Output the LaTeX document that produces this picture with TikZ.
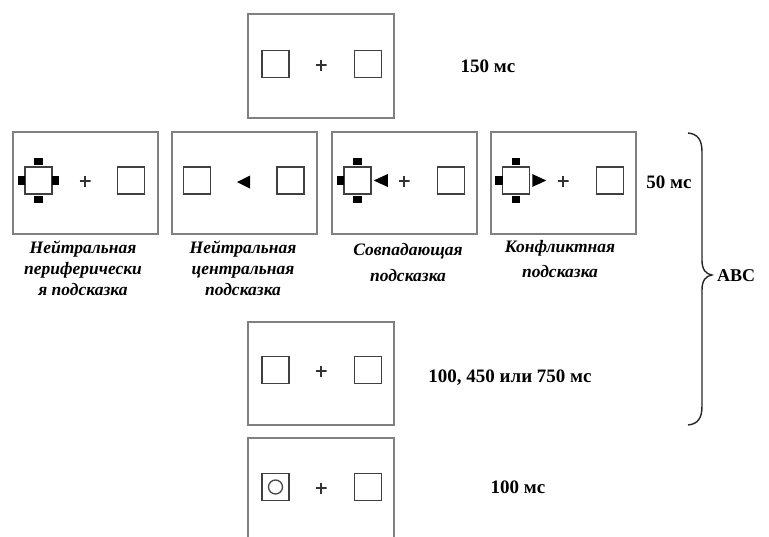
\documentclass[tikz,border=0pt]{standalone}
\usepackage{fontspec}
\setmainfont{Liberation Serif}
\begin{document}
\begin{tikzpicture}[x=1pt,y=-1pt,
  frame/.style={draw=black!50, line width=2pt, minimum width=145pt, minimum height=102pt, inner sep=0pt},
  sq/.style={draw=black!75, line width=1.5pt, minimum size=27pt, inner sep=0pt},
  mk/.style={fill=black, minimum width=8.5pt, minimum height=7.5pt, inner sep=0pt},
  mkv/.style={fill=black, minimum width=7.5pt, minimum height=8.5pt, inner sep=0pt},
  plus/.style={minimum size=11pt, inner sep=0pt, path picture={
      \draw[line width=1.7pt, black!80]
        (path picture bounding box.north) -- (path picture bounding box.south)
        (path picture bounding box.west) -- (path picture bounding box.east);}},
  tlabel/.style={inner sep=0pt, font=\fontsize{19}{20}\selectfont\bfseries},
  cuelabel/.style={inner sep=0pt, align=center, anchor=north, font=\fontsize{17.5}{21}\selectfont\bfseries\itshape},
  tri/.style={fill=black}]
\useasboundingbox (0,0) rectangle (769,536);
\clip (0,0) rectangle (769,536);

% fixation display
\node[frame, minimum width=146pt, minimum height=104pt] (f0) at (321,66) {};
\node[sq] (f0l) at (275.5,64) {};
\node[plus] (f0p) at (321,65) {};
\node[sq] (f0r) at (368,64) {};
\node[tlabel] (t0) at (488,66) {150 мс};

% four cue displays
\node[frame] (f1) at (85.5,182.5) {};
\node[frame] (f2) at (244.5,182.5) {};
\node[frame] (f3) at (404.5,182.5) {};
\node[frame] (f4) at (563,182.5) {};

% neutral peripheral cue
\node[sq] (c1) at (38.5,180.5) {};
\node[mk, anchor=south, yshift=1pt] at (c1.north) {};
\node[mk, anchor=north, yshift=-1pt] at (c1.south) {};
\node[mkv, anchor=east, xshift=1pt] at (c1.west) {};
\node[mkv, anchor=west, xshift=-1pt] at (c1.east) {};
\node[plus] (p1) at (85,181) {};
\node[sq] (r1) at (131,180.5) {};

% neutral central cue
\node[sq] (l2) at (197,180.5) {};
\fill[tri] (237,182) -- (250,175.5) -- (250,188.5) -- cycle;
\node[sq] (r2) at (290.5,180.5) {};

% congruent cue
\node[sq] (c3) at (357.5,180.5) {};
\node[mk, anchor=south, yshift=1pt] at (c3.north) {};
\node[mk, anchor=north, yshift=-1pt] at (c3.south) {};
\node[mkv, anchor=east, xshift=1pt] at (c3.west) {};
\fill[tri] ([xshift=2pt]c3.east) -- ++(14,-6.5) -- ++(0,13) -- cycle;
\node[plus] (p3) at (404,181) {};
\node[sq] (r3) at (451,180.5) {};

% incongruent cue
\node[sq] (c4) at (516,180.5) {};
\node[mk, anchor=south, yshift=1pt] at (c4.north) {};
\node[mk, anchor=north, yshift=-1pt] at (c4.south) {};
\node[mkv, anchor=east, xshift=1pt] at (c4.west) {};
\fill[tri] ([xshift=2pt]c4.east) ++(0,-6.5) -- ++(14,6.5) -- ++(-14,6.5) -- cycle;
\node[plus] (p4) at (563,181) {};
\node[sq] (r4) at (610,180.5) {};

\node[tlabel] (t1) at (669,182) {50 мс};

% cue captions
\node[cuelabel] (n1) at (83,241) {Нейтральная\\периферически\\я подсказка};
\node[cuelabel] (n2) at (243,241) {Нейтральная\\центральная\\подсказка};
\node[cuelabel, font=\fontsize{17.5}{26}\selectfont\bfseries\itshape] (n3) at (408,243) {Совпадающая\\подсказка};
\node[cuelabel, font=\fontsize{17.5}{25}\selectfont\bfseries\itshape] (n4) at (560,240) {Конфликтная\\подсказка};

% interval display
\node[frame, minimum width=146pt, minimum height=103pt] (f5) at (321,373.5) {};
\node[sq] (l5) at (275.5,370) {};
\node[plus] (p5) at (321,371) {};
\node[sq] (r5) at (368,370) {};
\node[tlabel] (t5) at (510,378) {100, 450 или 750 мс};

% target display
\node[frame, minimum width=146pt, minimum height=104pt] (f6) at (321,490) {};
\node[sq] (l6) at (275.5,487) {};
\node[draw=black!72, line width=1.3pt, circle, minimum size=14pt, inner sep=0pt] (o6) at (l6.center) {};
\node[plus] (p6) at (321,488) {};
\node[sq] (r6) at (368,487) {};
\node[tlabel] (t6) at (518,487) {100 мс};

% brace over the cue and interval phases
\coordinate (bt) at (688,133);
\coordinate (bm) at (712,275);
\coordinate (bb) at (688,425);
\draw[line width=1.4pt, black!85] (bt) .. controls (698,134) and (702,140) .. (702,152) -- (702,260)
  .. controls (702,270) and (706,274) .. (bm)
  .. controls (706,276) and (702,280) .. (702,290) -- (702,406)
  .. controls (702,418) and (698,424) .. (bb);
\node[tlabel, font=\fontsize{18}{20}\selectfont\bfseries, anchor=west] (abc) at (717,276) {ABC};
\end{tikzpicture}
\end{document}
